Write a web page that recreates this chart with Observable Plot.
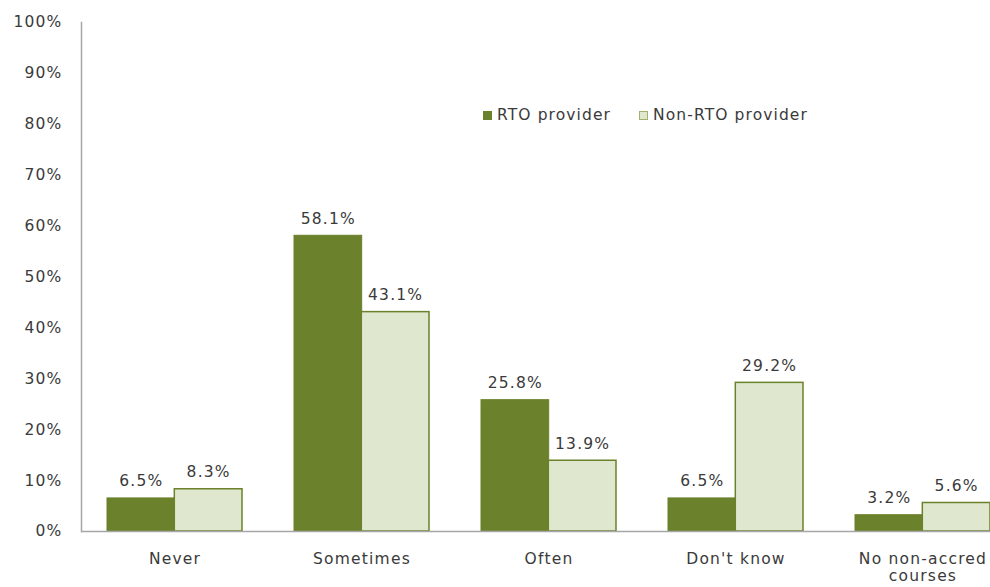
<!DOCTYPE html>
<html>
<head>
<meta charset="utf-8">
<script src="https://cdn.jsdelivr.net/npm/d3@7"></script>
<script src="https://cdn.jsdelivr.net/npm/@observablehq/plot@0.6"></script>
<style>
  html, body { margin: 0; padding: 0; background: #fff; overflow: hidden; }
  #wrap { position: relative; width: 990px; height: 587px; overflow: hidden; font-family: "DejaVu Sans", sans-serif; }
  #legend { position: absolute; left: 483px; top: 106px; display: flex; align-items: center; font-size: 15.5px; letter-spacing: 1.1px; color: #3a3a3a; }
  #legend .item { display: flex; align-items: center; margin-right: 28px; }
  #legend .sw { width: 9px; height: 9px; margin-right: 5px; box-sizing: border-box; }
</style>
</head>
<body>
<div id="wrap"><div id="chart"></div><div id="legend"></div></div>
<script>
const categories = ["Never", "Sometimes", "Often", "Don't know", "No non-accred courses"];
const categoryLabels = ["Never", "Sometimes", "Often", "Don't know", "No non-accred\ncourses"];
const seriesNames = ["RTO provider", "Non-RTO provider"];
const rtoValues = [6.5, 58.1, 25.8, 6.5, 3.2];
const nonRtoValues = [8.3, 43.1, 13.9, 29.2, 5.6];
const yTicks = [0, 10, 20, 30, 40, 50, 60, 70, 80, 90, 100];

const darkGreen = "#6b812b";
const lightGreen = "#dfe8cf";
const textColor = "#3a3a3a";

const rto = categories.map((c, i) => ({category: c, value: rtoValues[i]}));
const non = categories.map((c, i) => ({category: c, value: nonRtoValues[i]}));

const W = 990, H = 587, mL = 81, mR = -26, mT = 22, mB = 56;
const pInner = 0.28, pOuter = 0.14;
const step = (W - mR - mL) / (categories.length - pInner + 2 * pOuter);
const half = step * (1 - pInner) / 2;

const chart = Plot.plot({
  width: W, height: H,
  marginLeft: mL, marginRight: mR, marginTop: mT, marginBottom: mB,
  style: {fontFamily: "DejaVu Sans, sans-serif", fontSize: "15.5px", color: textColor, background: "#fff", letterSpacing: "1.2px"},
  x: {domain: categories, paddingInner: pInner, paddingOuter: pOuter, label: null},
  y: {domain: [0, 100], label: null},
  marks: [
    Plot.barY(rto, {x: "category", y: "value", fill: darkGreen, stroke: darkGreen, strokeWidth: 1, insetRight: half}),
    Plot.barY(non, {x: "category", y: "value", fill: lightGreen, stroke: darkGreen, strokeWidth: 1.5, insetLeft: half}),
    Plot.text(rto, {x: "category", y: "value", text: d => d.value.toFixed(1) + "%", dx: -half / 2, dy: -17, fill: textColor, fontSize: 15.5}),
    Plot.text(non, {x: "category", y: "value", text: d => d.value.toFixed(1) + "%", dx: half / 2, dy: -17, fill: textColor, fontSize: 15.5}),
    Plot.axisY({ticks: yTicks, tickSize: 0, tickPadding: 19, tickFormat: d => d + "%", fill: textColor, fontSize: 15.5}),
    Plot.axisX({tickSize: 0, tickPadding: 20, tickFormat: d => categoryLabels[categories.indexOf(d)], fill: textColor, fontSize: 15.5, lineHeight: 1.1}),
    Plot.ruleY([0], {stroke: "#a6a6a6", strokeWidth: 1.5}),
    Plot.frame({anchor: "left", stroke: "#a6a6a6", strokeWidth: 1.5})
  ]
});
document.getElementById("chart").appendChild(chart);

const legend = document.getElementById("legend");
seriesNames.forEach((name, i) => {
  const item = document.createElement("div");
  item.className = "item";
  const sw = document.createElement("div");
  sw.className = "sw";
  sw.style.background = i === 0 ? darkGreen : lightGreen;
  sw.style.border = "1px solid " + (i === 0 ? darkGreen : "#9fb46a");
  const t = document.createElement("span");
  t.textContent = name;
  item.appendChild(sw); item.appendChild(t);
  legend.appendChild(item);
});
</script>
</body>
</html>
